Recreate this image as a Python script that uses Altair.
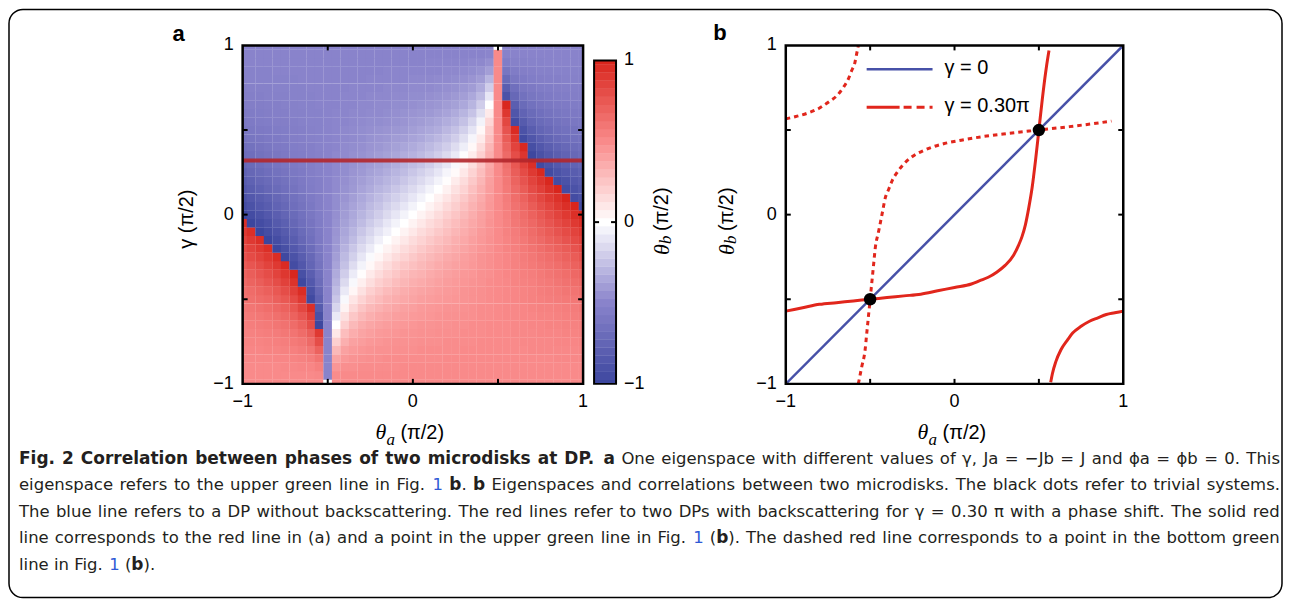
import altair as alt
import pandas as pd

# ----------------------------------------------------------------- data
theta_a_grid = [-1.00, -0.95, -0.90, -0.85, -0.80, -0.75, -0.70, -0.65, -0.60, -0.55,
                -0.50, -0.45, -0.40, -0.35, -0.30, -0.25, -0.20, -0.15, -0.10, -0.05,
                0.00, 0.05, 0.10, 0.15, 0.20, 0.25, 0.30, 0.35, 0.40, 0.45,
                0.50, 0.55, 0.60, 0.65, 0.70, 0.75, 0.80, 0.85, 0.90, 0.95, 1.00]
gamma_grid = [-1.00, -0.95, -0.90, -0.85, -0.80, -0.75, -0.70, -0.65, -0.60, -0.55,
              -0.50, -0.45, -0.40, -0.35, -0.30, -0.25, -0.20, -0.15, -0.10, -0.05,
              0.00, 0.05, 0.10, 0.15, 0.20, 0.25, 0.30, 0.35, 0.40, 0.45,
              0.50, 0.55, 0.60, 0.65, 0.70, 0.75, 0.80, 0.85, 0.90, 0.95, 1.00]
# theta_b (pi/2), one row per gamma value (gamma = -1 ... 1)
theta_b_rows = [
 [0.50,0.50,0.50,0.50,0.50,0.50,0.50,0.50,0.50,0.50,0.00,0.50,0.50,0.50,0.50,0.50,0.50,0.50,0.50,0.50,0.50,0.50,0.50,0.50,0.50,0.50,0.50,0.50,0.50,0.50,0.50,0.50,0.50,0.50,0.50,0.50,0.50,0.50,0.50,0.50,0.50],
 [0.50,0.50,0.50,0.50,0.50,0.50,0.50,0.50,0.50,0.51,-0.50,0.49,0.50,0.50,0.50,0.50,0.50,0.50,0.50,0.50,0.50,0.50,0.50,0.50,0.50,0.50,0.50,0.50,0.50,0.50,0.50,0.50,0.50,0.50,0.50,0.50,0.50,0.50,0.50,0.50,0.50],
 [0.50,0.50,0.50,0.50,0.50,0.51,0.51,0.52,0.52,0.55,-0.50,0.45,0.48,0.48,0.49,0.49,0.49,0.49,0.49,0.50,0.50,0.50,0.50,0.50,0.50,0.50,0.50,0.50,0.50,0.50,0.50,0.50,0.50,0.50,0.50,0.50,0.50,0.50,0.50,0.50,0.50],
 [0.51,0.51,0.51,0.51,0.52,0.52,0.53,0.54,0.56,0.61,-0.50,0.39,0.44,0.46,0.47,0.48,0.48,0.49,0.49,0.49,0.49,0.49,0.49,0.49,0.50,0.50,0.50,0.50,0.50,0.50,0.50,0.50,0.50,0.50,0.50,0.50,0.50,0.51,0.51,0.51,0.51],
 [0.52,0.52,0.52,0.53,0.53,0.54,0.55,0.57,0.60,0.70,-0.50,0.30,0.40,0.43,0.45,0.46,0.47,0.47,0.48,0.48,0.48,0.49,0.49,0.49,0.49,0.49,0.50,0.50,0.50,0.50,0.50,0.50,0.50,0.50,0.51,0.51,0.51,0.51,0.51,0.51,0.52],
 [0.53,0.53,0.53,0.54,0.55,0.56,0.58,0.60,0.66,0.80,-0.50,0.20,0.34,0.40,0.42,0.44,0.45,0.46,0.47,0.47,0.47,0.48,0.48,0.48,0.49,0.49,0.49,0.49,0.50,0.50,0.50,0.50,0.50,0.51,0.51,0.51,0.51,0.52,0.52,0.52,0.53],
 [0.54,0.54,0.55,0.56,0.57,0.59,0.61,0.65,0.72,0.90,-0.50,0.10,0.28,0.35,0.39,0.41,0.43,0.44,0.45,0.46,0.46,0.47,0.47,0.48,0.48,0.48,0.49,0.49,0.49,0.50,0.50,0.50,0.51,0.51,0.51,0.52,0.52,0.52,0.53,0.53,0.54],
 [0.55,0.56,0.57,0.58,0.60,0.62,0.65,0.70,0.80,-0.99,-0.50,0.00,0.20,0.30,0.35,0.38,0.40,0.42,0.43,0.44,0.45,0.46,0.46,0.47,0.47,0.48,0.48,0.49,0.49,0.50,0.50,0.50,0.51,0.51,0.52,0.52,0.53,0.53,0.54,0.54,0.55],
 [0.57,0.58,0.59,0.61,0.63,0.66,0.70,0.76,0.87,-0.91,-0.50,-0.09,0.13,0.24,0.30,0.34,0.37,0.39,0.41,0.42,0.43,0.44,0.45,0.46,0.47,0.47,0.48,0.48,0.49,0.49,0.50,0.51,0.51,0.52,0.52,0.53,0.53,0.54,0.55,0.56,0.57],
 [0.59,0.60,0.62,0.64,0.67,0.70,0.75,0.83,0.95,-0.83,-0.50,-0.17,0.05,0.17,0.25,0.30,0.33,0.36,0.38,0.40,0.41,0.43,0.44,0.45,0.46,0.46,0.47,0.48,0.49,0.49,0.50,0.51,0.51,0.52,0.53,0.54,0.54,0.55,0.56,0.57,0.59],
 [0.61,0.63,0.65,0.67,0.71,0.75,0.81,0.90,-0.97,-0.77,-0.50,-0.23,-0.03,0.11,0.19,0.25,0.29,0.33,0.35,0.37,0.39,0.41,0.42,0.43,0.44,0.45,0.46,0.47,0.48,0.49,0.50,0.51,0.52,0.53,0.54,0.55,0.56,0.57,0.58,0.59,0.61],
 [0.63,0.65,0.68,0.71,0.75,0.80,0.87,0.96,-0.91,-0.73,-0.50,-0.27,-0.09,0.04,0.13,0.20,0.25,0.29,0.32,0.35,0.37,0.39,0.40,0.42,0.43,0.44,0.46,0.47,0.48,0.49,0.50,0.51,0.52,0.53,0.54,0.56,0.57,0.58,0.60,0.61,0.63],
 [0.66,0.69,0.72,0.76,0.80,0.86,0.93,-0.98,-0.85,-0.69,-0.50,-0.31,-0.15,-0.03,0.07,0.14,0.20,0.24,0.28,0.31,0.34,0.36,0.38,0.40,0.42,0.43,0.45,0.46,0.47,0.49,0.50,0.51,0.53,0.54,0.55,0.57,0.58,0.60,0.62,0.64,0.66],
 [0.69,0.72,0.76,0.80,0.85,0.91,0.99,-0.92,-0.80,-0.66,-0.50,-0.34,-0.20,-0.08,0.01,0.09,0.15,0.20,0.24,0.28,0.31,0.33,0.36,0.38,0.40,0.42,0.44,0.45,0.47,0.48,0.50,0.52,0.53,0.55,0.56,0.58,0.60,0.62,0.64,0.67,0.69],
 [0.73,0.76,0.80,0.85,0.90,0.97,-0.95,-0.86,-0.75,-0.63,-0.50,-0.37,-0.25,-0.14,-0.05,0.03,0.10,0.15,0.20,0.24,0.27,0.30,0.33,0.36,0.38,0.40,0.42,0.44,0.46,0.48,0.50,0.52,0.54,0.56,0.58,0.60,0.62,0.64,0.67,0.70,0.73],
 [0.77,0.81,0.85,0.90,0.96,-0.98,-0.90,-0.81,-0.72,-0.61,-0.50,-0.39,-0.28,-0.19,-0.10,-0.02,0.04,0.10,0.15,0.19,0.23,0.27,0.30,0.33,0.36,0.38,0.41,0.43,0.46,0.48,0.50,0.52,0.54,0.57,0.59,0.62,0.64,0.67,0.70,0.73,0.77],
 [0.81,0.85,0.90,0.95,-0.99,-0.92,-0.85,-0.77,-0.69,-0.59,-0.50,-0.41,-0.31,-0.23,-0.15,-0.08,-0.01,0.05,0.10,0.15,0.19,0.23,0.27,0.30,0.33,0.36,0.39,0.42,0.45,0.47,0.50,0.53,0.55,0.58,0.61,0.64,0.67,0.70,0.73,0.77,0.81],
 [0.85,0.90,0.95,-1.00,-0.94,-0.87,-0.81,-0.73,-0.66,-0.58,-0.50,-0.42,-0.34,-0.27,-0.19,-0.13,-0.06,0.00,0.05,0.10,0.15,0.19,0.23,0.27,0.30,0.34,0.37,0.41,0.44,0.47,0.50,0.53,0.56,0.59,0.63,0.66,0.70,0.73,0.77,0.81,0.85],
 [0.90,0.95,-1.00,-0.94,-0.89,-0.83,-0.77,-0.70,-0.64,-0.57,-0.50,-0.43,-0.36,-0.30,-0.23,-0.17,-0.11,-0.06,0.00,0.05,0.10,0.15,0.19,0.23,0.27,0.31,0.35,0.39,0.43,0.46,0.50,0.54,0.57,0.61,0.65,0.69,0.73,0.77,0.81,0.85,0.90],
 [0.95,-1.00,-0.95,-0.90,-0.84,-0.79,-0.73,-0.67,-0.62,-0.56,-0.50,-0.44,-0.38,-0.33,-0.27,-0.21,-0.16,-0.10,-0.05,0.00,0.05,0.10,0.15,0.19,0.24,0.28,0.33,0.37,0.41,0.46,0.50,0.54,0.59,0.63,0.67,0.72,0.76,0.81,0.85,0.90,0.95],
 [-1.00,-0.95,-0.90,-0.85,-0.80,-0.75,-0.70,-0.65,-0.60,-0.55,-0.50,-0.45,-0.40,-0.35,-0.30,-0.25,-0.20,-0.15,-0.10,-0.05,0.00,0.05,0.10,0.15,0.20,0.25,0.30,0.35,0.40,0.45,0.50,0.55,0.60,0.65,0.70,0.75,0.80,0.85,0.90,0.95,1.00],
 [-0.95,-0.90,-0.85,-0.81,-0.76,-0.72,-0.67,-0.63,-0.59,-0.54,-0.50,-0.46,-0.41,-0.37,-0.33,-0.28,-0.24,-0.19,-0.15,-0.10,-0.05,0.00,0.05,0.10,0.16,0.21,0.27,0.33,0.38,0.44,0.50,0.56,0.62,0.67,0.73,0.79,0.84,0.90,0.95,1.00,-0.95],
 [-0.90,-0.85,-0.81,-0.77,-0.73,-0.69,-0.65,-0.61,-0.57,-0.54,-0.50,-0.46,-0.43,-0.39,-0.35,-0.31,-0.27,-0.23,-0.19,-0.15,-0.10,-0.05,0.00,0.06,0.11,0.17,0.23,0.30,0.36,0.43,0.50,0.57,0.64,0.70,0.77,0.83,0.89,0.94,1.00,-0.95,-0.90],
 [-0.85,-0.81,-0.77,-0.73,-0.70,-0.66,-0.63,-0.59,-0.56,-0.53,-0.50,-0.47,-0.44,-0.41,-0.37,-0.34,-0.30,-0.27,-0.23,-0.19,-0.15,-0.10,-0.05,0.00,0.06,0.13,0.19,0.27,0.34,0.42,0.50,0.58,0.66,0.73,0.81,0.87,0.94,1.00,-0.95,-0.90,-0.85],
 [-0.81,-0.77,-0.73,-0.70,-0.67,-0.64,-0.61,-0.58,-0.55,-0.53,-0.50,-0.47,-0.45,-0.42,-0.39,-0.36,-0.33,-0.30,-0.27,-0.23,-0.19,-0.15,-0.10,-0.05,0.01,0.08,0.15,0.23,0.31,0.41,0.50,0.59,0.69,0.77,0.85,0.92,0.99,-0.95,-0.90,-0.85,-0.81],
 [-0.77,-0.73,-0.70,-0.67,-0.64,-0.62,-0.59,-0.57,-0.54,-0.52,-0.50,-0.48,-0.46,-0.43,-0.41,-0.38,-0.36,-0.33,-0.30,-0.27,-0.23,-0.19,-0.15,-0.10,-0.04,0.02,0.10,0.19,0.28,0.39,0.50,0.61,0.72,0.81,0.90,0.98,-0.96,-0.90,-0.85,-0.81,-0.77],
 [-0.73,-0.70,-0.67,-0.64,-0.62,-0.60,-0.58,-0.56,-0.54,-0.52,-0.50,-0.48,-0.46,-0.44,-0.42,-0.40,-0.38,-0.36,-0.33,-0.30,-0.27,-0.24,-0.20,-0.15,-0.10,-0.03,0.05,0.14,0.25,0.37,0.50,0.63,0.75,0.86,0.95,-0.97,-0.90,-0.85,-0.80,-0.76,-0.73],
 [-0.69,-0.67,-0.64,-0.62,-0.60,-0.58,-0.56,-0.55,-0.53,-0.52,-0.50,-0.48,-0.47,-0.45,-0.44,-0.42,-0.40,-0.38,-0.36,-0.33,-0.31,-0.28,-0.24,-0.20,-0.15,-0.09,-0.01,0.08,0.20,0.34,0.50,0.66,0.80,0.92,-0.99,-0.91,-0.85,-0.80,-0.76,-0.72,-0.69],
 [-0.66,-0.64,-0.62,-0.60,-0.58,-0.57,-0.55,-0.54,-0.53,-0.51,-0.50,-0.49,-0.47,-0.46,-0.45,-0.43,-0.42,-0.40,-0.38,-0.36,-0.34,-0.31,-0.28,-0.24,-0.20,-0.14,-0.07,0.03,0.15,0.31,0.50,0.69,0.85,0.98,-0.93,-0.86,-0.80,-0.76,-0.72,-0.69,-0.66],
 [-0.63,-0.61,-0.60,-0.58,-0.57,-0.56,-0.54,-0.53,-0.52,-0.51,-0.50,-0.49,-0.48,-0.47,-0.46,-0.44,-0.43,-0.42,-0.40,-0.39,-0.37,-0.35,-0.32,-0.29,-0.25,-0.20,-0.13,-0.04,0.09,0.27,0.50,0.73,0.91,-0.96,-0.87,-0.80,-0.75,-0.71,-0.68,-0.65,-0.63],
 [-0.61,-0.59,-0.58,-0.57,-0.56,-0.55,-0.54,-0.53,-0.52,-0.51,-0.50,-0.49,-0.48,-0.47,-0.46,-0.45,-0.44,-0.43,-0.42,-0.41,-0.39,-0.37,-0.35,-0.33,-0.29,-0.25,-0.19,-0.11,0.03,0.23,0.50,0.77,0.97,-0.90,-0.81,-0.75,-0.71,-0.67,-0.65,-0.63,-0.61],
 [-0.59,-0.57,-0.56,-0.55,-0.54,-0.54,-0.53,-0.52,-0.51,-0.51,-0.50,-0.49,-0.49,-0.48,-0.47,-0.46,-0.46,-0.45,-0.44,-0.43,-0.41,-0.40,-0.38,-0.36,-0.33,-0.30,-0.25,-0.17,-0.05,0.17,0.50,0.83,-0.95,-0.83,-0.75,-0.70,-0.67,-0.64,-0.62,-0.60,-0.59],
 [-0.57,-0.56,-0.55,-0.54,-0.53,-0.53,-0.52,-0.52,-0.51,-0.51,-0.50,-0.49,-0.49,-0.48,-0.48,-0.47,-0.47,-0.46,-0.45,-0.44,-0.43,-0.42,-0.41,-0.39,-0.37,-0.34,-0.30,-0.24,-0.13,0.09,0.50,0.91,-0.87,-0.76,-0.70,-0.66,-0.63,-0.61,-0.59,-0.58,-0.57],
 [-0.55,-0.54,-0.54,-0.53,-0.53,-0.52,-0.52,-0.51,-0.51,-0.50,-0.50,-0.50,-0.49,-0.49,-0.48,-0.48,-0.47,-0.47,-0.46,-0.46,-0.45,-0.44,-0.43,-0.42,-0.40,-0.38,-0.35,-0.30,-0.20,0.00,0.50,0.99,-0.80,-0.70,-0.65,-0.62,-0.60,-0.58,-0.57,-0.56,-0.55],
 [-0.54,-0.53,-0.53,-0.52,-0.52,-0.52,-0.51,-0.51,-0.51,-0.50,-0.50,-0.50,-0.49,-0.49,-0.49,-0.48,-0.48,-0.48,-0.47,-0.47,-0.46,-0.46,-0.45,-0.44,-0.43,-0.41,-0.39,-0.35,-0.28,-0.10,0.50,-0.90,-0.72,-0.65,-0.61,-0.59,-0.57,-0.56,-0.55,-0.54,-0.54],
 [-0.53,-0.52,-0.52,-0.52,-0.51,-0.51,-0.51,-0.51,-0.50,-0.50,-0.50,-0.50,-0.50,-0.49,-0.49,-0.49,-0.49,-0.48,-0.48,-0.48,-0.47,-0.47,-0.47,-0.46,-0.45,-0.44,-0.42,-0.40,-0.34,-0.20,0.50,-0.80,-0.66,-0.60,-0.58,-0.56,-0.55,-0.54,-0.53,-0.53,-0.53],
 [-0.52,-0.51,-0.51,-0.51,-0.51,-0.51,-0.51,-0.50,-0.50,-0.50,-0.50,-0.50,-0.50,-0.50,-0.50,-0.49,-0.49,-0.49,-0.49,-0.49,-0.48,-0.48,-0.48,-0.47,-0.47,-0.46,-0.45,-0.43,-0.40,-0.30,0.50,-0.70,-0.60,-0.57,-0.55,-0.54,-0.53,-0.53,-0.52,-0.52,-0.52],
 [-0.51,-0.51,-0.51,-0.51,-0.50,-0.50,-0.50,-0.50,-0.50,-0.50,-0.50,-0.50,-0.50,-0.50,-0.50,-0.50,-0.50,-0.49,-0.49,-0.49,-0.49,-0.49,-0.49,-0.49,-0.48,-0.48,-0.47,-0.46,-0.44,-0.39,0.50,-0.61,-0.56,-0.54,-0.53,-0.52,-0.52,-0.51,-0.51,-0.51,-0.51],
 [-0.50,-0.50,-0.50,-0.50,-0.50,-0.50,-0.50,-0.50,-0.50,-0.50,-0.50,-0.50,-0.50,-0.50,-0.50,-0.50,-0.50,-0.50,-0.50,-0.50,-0.50,-0.50,-0.49,-0.49,-0.49,-0.49,-0.49,-0.48,-0.48,-0.45,0.50,-0.55,-0.52,-0.52,-0.51,-0.51,-0.50,-0.50,-0.50,-0.50,-0.50],
 [-0.50,-0.50,-0.50,-0.50,-0.50,-0.50,-0.50,-0.50,-0.50,-0.50,-0.50,-0.50,-0.50,-0.50,-0.50,-0.50,-0.50,-0.50,-0.50,-0.50,-0.50,-0.50,-0.50,-0.50,-0.50,-0.50,-0.50,-0.50,-0.50,-0.49,0.50,-0.51,-0.50,-0.50,-0.50,-0.50,-0.50,-0.50,-0.50,-0.50,-0.50],
 [-0.50,-0.50,-0.50,-0.50,-0.50,-0.50,-0.50,-0.50,-0.50,-0.50,-0.50,-0.50,-0.50,-0.50,-0.50,-0.50,-0.50,-0.50,-0.50,-0.50,-0.50,-0.50,-0.50,-0.50,-0.50,-0.50,-0.50,-0.50,-0.50,-0.50,0.00,-0.50,-0.50,-0.50,-0.50,-0.50,-0.50,-0.50,-0.50,-0.50,-0.50],
]
gamma_marker = [0.32]
cbar_levels = [-1.00, -0.95, -0.90, -0.85, -0.80, -0.75, -0.70, -0.65, -0.60, -0.55,
               -0.50, -0.45, -0.40, -0.35, -0.30, -0.25, -0.20, -0.15, -0.10, -0.05,
               0.00, 0.05, 0.10, 0.15, 0.20, 0.25, 0.30, 0.35, 0.40, 0.45,
               0.50, 0.55, 0.60, 0.65, 0.70, 0.75, 0.80, 0.85, 0.90, 0.95, 1.00]
cbar_range = [-1.0, 1.0]
cbar_tick_vals = [0.0]
label_vals = [-1, 0, 1]
label_text = ["\u22121", "0", "1"]
tick_vals = [-0.5, 0.0, 0.5]

blue_a = [-1.0, 1.0]
blue_b = [-1.0, 1.0]
solid_main_a = [-1.0, -0.9, -0.8, -0.7, -0.6, -0.5, -0.4, -0.3, -0.2, -0.1, 0.0, 0.1, 0.15, 0.2,
                0.25, 0.3, 0.35, 0.38, 0.4, 0.42, 0.44, 0.46, 0.48, 0.5, 0.52, 0.54, 0.555, 0.56]
solid_main_b = [-0.57, -0.55, -0.53, -0.52, -0.51, -0.50, -0.49, -0.48, -0.47, -0.45, -0.43, -0.41, -0.39, -0.37,
                -0.34, -0.30, -0.24, -0.18, -0.13, -0.06, 0.04, 0.16, 0.32, 0.50, 0.68, 0.84, 0.94, 0.97]
solid_low_a = [0.57, 0.58, 0.60, 0.63, 0.67, 0.70, 0.75, 0.80, 0.85, 0.90, 0.95, 1.0]
solid_low_b = [-0.99, -0.94, -0.87, -0.80, -0.74, -0.70, -0.66, -0.63, -0.61, -0.59, -0.58, -0.57]
dashed_main_a = [-0.57, -0.55, -0.53, -0.52, -0.51, -0.50, -0.49, -0.48, -0.47, -0.45, -0.43, -0.41, -0.39, -0.37,
                 -0.34, -0.30, -0.24, -0.18, -0.13, -0.06, 0.04, 0.16, 0.32, 0.50, 0.68, 0.84, 0.93]
dashed_main_b = [-1.0, -0.9, -0.8, -0.7, -0.6, -0.5, -0.4, -0.3, -0.2, -0.1, 0.0, 0.1, 0.15, 0.2,
                 0.25, 0.3, 0.35, 0.38, 0.4, 0.42, 0.44, 0.46, 0.48, 0.5, 0.52, 0.54, 0.553]
dashed_up_a = [-1.0, -0.94, -0.87, -0.80, -0.74, -0.70, -0.66, -0.63, -0.61, -0.59, -0.58, -0.57]
dashed_up_b = [0.566, 0.58, 0.60, 0.63, 0.67, 0.70, 0.75, 0.80, 0.85, 0.90, 0.95, 1.0]
dots_a = [-0.5, 0.5]
dots_b = [-0.5, 0.5]

# caption text: lines of (text, style) segments; r = regular, b = bold, l = link
caption_lines = [
    [("Fig. 2 Correlation between phases of two microdisks at DP.", "b"), (" ", "r"), ("a", "b"),
     (" One eigenspace with different values of \u03b3, Ja = \u2212Jb = J and \u03d5a = \u03d5b = 0. This", "r")],
    [("eigenspace refers to the upper green line in Fig. ", "r"), ("1", "l"), (" ", "r"), ("b", "b"),
     (". ", "r"), ("b", "b"),
     (" Eigenspaces and correlations between two microdisks. The black dots refer to trivial systems.", "r")],
    [("The blue line refers to a DP without backscattering. The red lines refer to two DPs with "
      "backscattering for \u03b3 = 0.30 \u03c0 with a phase shift. The solid red", "r")],
    [("line corresponds to the red line in (a) and a point in the upper green line in Fig. ", "r"),
     ("1", "l"), (" (", "r"), ("b", "b"),
     ("). The dashed red line corresponds to a point in the bottom green", "r")],
    [("line in Fig. ", "r"), ("1", "l"), (" (", "r"), ("b", "b"), (").", "r")],
]

# ----------------------------------------------------------------- tables
heat_records = []
for gi, gv in enumerate(gamma_grid):
    for ti, tv in enumerate(theta_a_grid):
        heat_records.append({"ta": tv, "g": gv, "tb": theta_b_rows[gi][ti]})
heat_df = pd.DataFrame(heat_records)
cbar_df = pd.DataFrame({"v": cbar_levels})
cbar_frame_df = pd.DataFrame({"lo": [cbar_range[0]], "hi": [cbar_range[1]]})
cbar_tick_df = pd.DataFrame({"v": cbar_tick_vals})
label_df = pd.DataFrame({"v": label_vals, "t": label_text})
tick_df = pd.DataFrame({"v": tick_vals})
DUMMY = pd.DataFrame({"d": [0]})


def curve(a, b):
    return pd.DataFrame({"a": a, "b": b, "i": list(range(len(a)))})


# ----------------------------------------------------------------- styles
SANS = "Liberation Sans"
SERIF = "Liberation Serif"
CAP = "DejaVu Sans"
BLUE = "#4751a8"
RED = "#e1261c"
LINK = "#2f5ad6"
CAPCOL = "#231f20"
CSCALE = alt.Scale(domain=[-1, -0.5, 0, 0.5, 1],
                   range=["#3c469e", "#8983cb", "#ffffff", "#f98a8a", "#d8251c"],
                   interpolate="rgb")
W_A, W_CB, W_B, H = 341, 181, 338, 339
A0X, A0Y = 242, 44      # page position of panel a plot area
B0X, B0Y = 786, 44      # page position of panel b plot area
CB0X = 594

# DejaVu Sans advance widths (em) used to justify the caption lines
W_REG = {" ": .318, "a": .613, "b": .635, "c": .550, "d": .635, "e": .615, "f": .352, "g": .635,
         "h": .634, "i": .278, "j": .278, "k": .579, "l": .278, "m": .974, "n": .634, "o": .612,
         "p": .635, "q": .635, "r": .411, "s": .521, "t": .392, "u": .634, "v": .592, "w": .818,
         "x": .592, "y": .592, "z": .525, "B": .686, "D": .770, "E": .632, "F": .575, "J": .295,
         "O": .787, "P": .603, "T": .611, ".": .318, ",": .318, "(": .390, ")": .390, "=": .838,
         "\u2212": .838, "0": .636, "1": .636, "2": .636, "3": .636, "\u03b3": .592, "\u03c0": .600,
         "\u03d5": .660}
W_BOLD = {" ": .348, "a": .675, "b": .716, "c": .593, "d": .716, "e": .678, "f": .435, "g": .716,
          "h": .712, "i": .343, "k": .665, "l": .343, "m": 1.042, "n": .712, "o": .687, "p": .716,
          "r": .493, "s": .595, "t": .478, "w": .924, "C": .734, "D": .830, "F": .683, "P": .733,
          "2": .696, ".": .380}
CAP_SIZE = {"r": 16.5, "l": 16.5, "b": 17}


def char_w(c, st):
    table = W_BOLD if st == "b" else W_REG
    return table.get(c, .70 if st == "b" else .62) * CAP_SIZE[st]


def layout_line(segs, x0, x1, justify):
    tokens, cur, nat, nsp = [], None, 0.0, 0
    for text, st in segs:
        for c in text:
            if c == " ":
                cur = None
                nat += char_w(" ", st)
                nsp += 1
            else:
                if cur is None or cur["st"] != st:
                    cur = {"t": "", "st": st, "nat": nat, "nsp": nsp}
                    tokens.append(cur)
                cur["t"] += c
                nat += char_w(c, st)
    extra = ((x1 - x0) - nat) / nsp if (justify and nsp) else 0.0
    return [(x0 + tk["nat"] + tk["nsp"] * extra, tk["t"], tk["st"]) for tk in tokens]


def txt(x, y, s, size, font=SANS, weight="normal", style="normal", color="black",
        align="left", baseline="middle", angle=0):
    kw = dict(text=s, fontSize=size, font=font, fontWeight=weight, fontStyle=style,
              color=color, align=align, baseline=baseline)
    if angle:
        kw["angle"] = angle
    return alt.Chart(DUMMY).mark_text(**kw).encode(x=alt.value(x), y=alt.value(y))


def frame_ticks_labels(w, h, xscale, yscale):
    out = [alt.Chart(DUMMY).mark_rect(filled=False, color="black", strokeWidth=2.5).encode(
        x=alt.value(0), x2=alt.value(w), y=alt.value(0), y2=alt.value(h))]
    for y1, y2 in ((h, h - 5), (0, 5)):
        out.append(alt.Chart(tick_df).mark_rule(color="black", strokeWidth=2).encode(
            x=alt.X("v:Q", scale=xscale, axis=None),
            y=alt.value(y1), y2=alt.value(y2)))
    for x1, x2 in ((0, 5), (w, w - 5)):
        out.append(alt.Chart(tick_df).mark_rule(color="black", strokeWidth=2).encode(
            y=alt.Y("v:Q", scale=yscale, axis=None),
            x=alt.value(x1), x2=alt.value(x2)))
    out.append(alt.Chart(label_df).mark_text(font=SANS, fontSize=18, color="black",
                                             align="center", baseline="top").encode(
        x=alt.X("v:Q", scale=xscale, axis=None), y=alt.value(h + 9), text="t:N"))
    out.append(alt.Chart(label_df).mark_text(font=SANS, fontSize=18, color="black",
                                             align="right", baseline="middle").encode(
        y=alt.Y("v:Q", scale=yscale, axis=None), x=alt.value(-9), text="t:N"))
    return out


# ----------------------------------------------------------------- panel a
xs_a = alt.Scale(domain=[-1, 1], nice=False, zero=False)
ys_a = alt.Scale(domain=[-1, 1], nice=False, zero=False)

heat = alt.Chart(heat_df).transform_calculate(
    xa="datum.ta - 0.0256", xb="datum.ta + 0.0256",
    ya="datum.g - 0.0256", yb="datum.g + 0.0256"
).mark_rect(clip=True).encode(
    x=alt.X("xa:Q", scale=xs_a, axis=None), x2="xb:Q",
    y=alt.Y("ya:Q", scale=ys_a, axis=None), y2="yb:Q",
    color=alt.Color("tb:Q", scale=CSCALE, legend=None))

red_marker = alt.Chart(pd.DataFrame({"g": gamma_marker})).mark_rule(
    color="#b3262b", strokeWidth=4, opacity=0.9).encode(
    y=alt.Y("g:Q", scale=ys_a, axis=None))

layers_a = [heat, red_marker] + frame_ticks_labels(W_A, H, xs_a, ys_a)


def ra(px, py):
    return px - A0X, py - A0Y


layers_a.append(txt(*ra(178, 33), "a", 22, weight="bold", align="center"))
layers_a.append(txt(*ra(186, 218), "\u03b3 (\u03c0/2)", 20, align="center", angle=270))
layers_a.append(txt(*ra(375, 438), "\u03b8", 22, font=SERIF, style="italic", baseline="alphabetic"))
layers_a.append(txt(*ra(386, 444), "a", 17, font=SERIF, style="italic", baseline="alphabetic"))
layers_a.append(txt(*ra(400, 438), "(\u03c0/2)", 20, baseline="alphabetic"))

# outer rounded border of the whole figure
layers_a.append(alt.Chart(DUMMY).mark_rect(filled=False, color="black", strokeWidth=1.5,
                                           cornerRadius=14).encode(
    x=alt.value(8 - A0X), x2=alt.value(1283 - A0X), y=alt.value(8 - A0Y), y2=alt.value(597 - A0Y)))

# caption, justified between page x 18 and 1281 (last line left-aligned)
LINE_Y = [458, 484.5, 511, 537.5, 564]
for li, segs in enumerate(caption_lines):
    for px, s, st in layout_line(segs, 18, 1281, justify=(li < len(caption_lines) - 1)):
        x, y = ra(px, LINE_Y[li])
        layers_a.append(txt(x, y, s, CAP_SIZE[st], font=CAP,
                            weight="bold" if st == "b" else "normal",
                            color=LINK if st == "l" else CAPCOL))

panel_a = alt.layer(*layers_a).properties(width=W_A, height=H)

# ----------------------------------------------------------------- colour bar
ys_cb = alt.Scale(domain=[-1, 1.0926], nice=False, zero=False)
cb_bands = alt.Chart(cbar_df).transform_calculate(
    lo="max(datum.v - 0.026, -1)", hi="min(datum.v + 0.026, 1)"
).mark_rect().encode(
    x=alt.value(0), x2=alt.value(22),
    y=alt.Y("lo:Q", scale=ys_cb, axis=None), y2="hi:Q",
    color=alt.Color("v:Q", scale=CSCALE, legend=None))
cb_frame = alt.Chart(cbar_frame_df).mark_rect(filled=False, color="black", strokeWidth=2).encode(
    x=alt.value(0), x2=alt.value(22),
    y=alt.Y("lo:Q", scale=ys_cb, axis=None), y2="hi:Q")
cb_t1 = alt.Chart(cbar_tick_df).mark_rule(color="black", strokeWidth=2).encode(
    y=alt.Y("v:Q", scale=ys_cb, axis=None), x=alt.value(0), x2=alt.value(5))
cb_t2 = alt.Chart(cbar_tick_df).mark_rule(color="black", strokeWidth=2).encode(
    y=alt.Y("v:Q", scale=ys_cb, axis=None), x=alt.value(17), x2=alt.value(22))
cb_labels = alt.Chart(label_df).mark_text(font=SANS, fontSize=18, align="left",
                                          baseline="middle", color="black").encode(
    y=alt.Y("v:Q", scale=ys_cb, axis=None), x=alt.value(30), text="t:N")
cb_title = [
    txt(662 - CB0X, 254 - A0Y, "\u03b8", 22, font=SERIF, style="italic", angle=270),
    txt(666 - CB0X, 243 - A0Y, "b", 17, font=SERIF, style="italic", angle=270),
    txt(662 - CB0X, 230 - A0Y, "(\u03c0/2)", 20, angle=270),
]
colorbar = alt.layer(cb_bands, cb_frame, cb_t1, cb_t2, cb_labels, *cb_title).properties(
    width=W_CB, height=H)

# ----------------------------------------------------------------- panel b
xs_b = alt.Scale(domain=[-1, 1], nice=False, zero=False)
ys_b = alt.Scale(domain=[-1, 1], nice=False, zero=False)


def line_layer(df, color, width, dash=None):
    kw = dict(color=color, strokeWidth=width, interpolate="monotone", clip=True)
    if dash:
        kw["strokeDash"] = dash
    return alt.Chart(df).mark_line(**kw).encode(
        x=alt.X("a:Q", scale=xs_b, axis=None),
        y=alt.Y("b:Q", scale=ys_b, axis=None),
        order="i:Q")


layers_b = [
    line_layer(curve(blue_a, blue_b), BLUE, 2.5),
    line_layer(curve(dashed_main_a, dashed_main_b), RED, 3, [4.5, 4]),
    line_layer(curve(dashed_up_a, dashed_up_b), RED, 3, [4.5, 4]),
    line_layer(curve(solid_main_a, solid_main_b), RED, 3),
    line_layer(curve(solid_low_a, solid_low_b), RED, 3),
    alt.Chart(curve(dots_a, dots_b)).mark_circle(size=155, color="black", opacity=1).encode(
        x=alt.X("a:Q", scale=xs_b, axis=None),
        y=alt.Y("b:Q", scale=ys_b, axis=None)),
]
layers_b += frame_ticks_labels(W_B, H, xs_b, ys_b)


def rb(px, py):
    return px - B0X, py - B0Y


# legend
layers_b.append(alt.Chart(DUMMY).mark_rule(color=BLUE, strokeWidth=2.5).encode(
    x=alt.value(867 - B0X), x2=alt.value(933 - B0X), y=alt.value(68 - B0Y)))
layers_b.append(alt.Chart(DUMMY).mark_rule(color=RED, strokeWidth=3).encode(
    x=alt.value(867 - B0X), x2=alt.value(900 - B0X), y=alt.value(106 - B0Y)))
layers_b.append(alt.Chart(DUMMY).mark_rule(color=RED, strokeWidth=3, strokeDash=[8, 5]).encode(
    x=alt.value(904 - B0X), x2=alt.value(933 - B0X), y=alt.value(106 - B0Y)))
layers_b.append(txt(*rb(945, 67), "\u03b3 = 0", 20))
layers_b.append(txt(*rb(945, 105), "\u03b3 = 0.30\u03c0", 20))
# labels and titles
layers_b.append(txt(*rb(720, 32), "b", 22, weight="bold", align="center"))
layers_b.append(txt(*rb(918, 438), "\u03b8", 22, font=SERIF, style="italic", baseline="alphabetic"))
layers_b.append(txt(*rb(929, 444), "a", 17, font=SERIF, style="italic", baseline="alphabetic"))
layers_b.append(txt(*rb(943, 438), "(\u03c0/2)", 20, baseline="alphabetic"))
layers_b.append(txt(*rb(727, 254), "\u03b8", 22, font=SERIF, style="italic", angle=270))
layers_b.append(txt(*rb(731, 243), "b", 17, font=SERIF, style="italic", angle=270))
layers_b.append(txt(*rb(727, 230), "(\u03c0/2)", 20, angle=270))

panel_b = alt.layer(*layers_b).properties(width=W_B, height=H)

chart = alt.hconcat(panel_a, colorbar, panel_b, spacing=11, bounds="flush").properties(
    padding=0, background="white").configure_view(strokeWidth=0)

chart.save("out.html", embed_options={"renderer": "svg", "actions": False})
